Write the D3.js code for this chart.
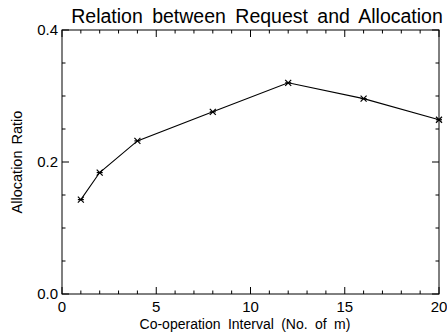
<!DOCTYPE html>
<html><head><meta charset="utf-8">
<script src="https://cdn.jsdelivr.net/npm/d3@7"></script>
<style>body{margin:0;background:#fff}svg{display:block}text{font-family:"Liberation Sans",Arial,sans-serif;fill:#000}</style>
</head><body>
<svg id="c" width="447" height="332"></svg>
<script>
const intervals = [1, 2, 4, 8, 12, 16, 20];
const ratios = [0.143, 0.184, 0.232, 0.276, 0.320, 0.296, 0.264];
const xTicks = [0, 5, 10, 15, 20];
const yTicks = [0.0, 0.2, 0.4];
const xMinor = d3.range(0, 21, 1);
const yMinor = d3.range(0, 0.401, 0.05);

const L = 62, R = 439, T = 30, B = 294;
const svg = d3.select("#c");
const x = d3.scaleLinear().domain([0, 20]).range([L, R]);
const y = d3.scaleLinear().domain([0, 0.4]).range([B, T]);

const g = svg.append("g").attr("stroke", "#000").attr("stroke-width", 1);
g.append("rect").attr("x", L).attr("y", T).attr("width", R - L).attr("height", B - T).attr("fill", "none");

const majX = new Set(xTicks);
xMinor.forEach(v => {
  const len = majX.has(v) ? 7 : 3.5;
  g.append("line").attr("x1", x(v)).attr("x2", x(v)).attr("y1", B).attr("y2", B - len);
  g.append("line").attr("x1", x(v)).attr("x2", x(v)).attr("y1", T).attr("y2", T + len);
});
yMinor.forEach((v, i) => {
  const len = (i % 4 === 0) ? 7 : 3.5;
  g.append("line").attr("y1", y(v)).attr("y2", y(v)).attr("x1", L).attr("x2", L + len);
  g.append("line").attr("y1", y(v)).attr("y2", y(v)).attr("x1", R).attr("x2", R - len);
});

svg.append("g").selectAll("text").data(xTicks).join("text")
  .attr("x", d => x(d)).attr("y", B + 18).attr("text-anchor", "middle")
  .attr("font-size", 15).text(d => d);
svg.append("g").selectAll("text").data(yTicks).join("text")
  .attr("x", L - 4).attr("y", d => y(d) + 5).attr("text-anchor", "end")
  .attr("font-size", 15).text(d => d.toFixed(1));

svg.append("path").datum(intervals.map((d, i) => [d, ratios[i]]))
  .attr("fill", "none").attr("stroke", "#000").attr("stroke-width", 1.1)
  .attr("d", d3.line().x(d => x(d[0])).y(d => y(d[1])));
const m = svg.append("g").attr("stroke", "#000").attr("stroke-width", 1.2);
intervals.forEach((d, i) => {
  const cx = x(d), cy = y(ratios[i]), s = 3;
  m.append("line").attr("x1", cx - s).attr("y1", cy - s).attr("x2", cx + s).attr("y2", cy + s);
  m.append("line").attr("x1", cx - s).attr("y1", cy + s).attr("x2", cx + s).attr("y2", cy - s);
  m.append("line").attr("x1", cx - s).attr("y1", cy).attr("x2", cx + s).attr("y2", cy);
});

svg.append("text").attr("x", 257).attr("y", 23).attr("text-anchor", "middle")
  .attr("font-size", 19.5).attr("word-spacing", 4).text("Relation between Request and Allocation");
svg.append("text").attr("x", 245).attr("y", 329).attr("text-anchor", "middle")
  .attr("font-size", 14).attr("word-spacing", 3.5).text("Co-operation Interval (No. of m)");
svg.append("text").attr("transform", `translate(22,${(T + B) / 2}) rotate(-90)`)
  .attr("text-anchor", "middle").attr("font-size", 14.5).attr("word-spacing", 2).text("Allocation Ratio");
</script>
</body></html>
